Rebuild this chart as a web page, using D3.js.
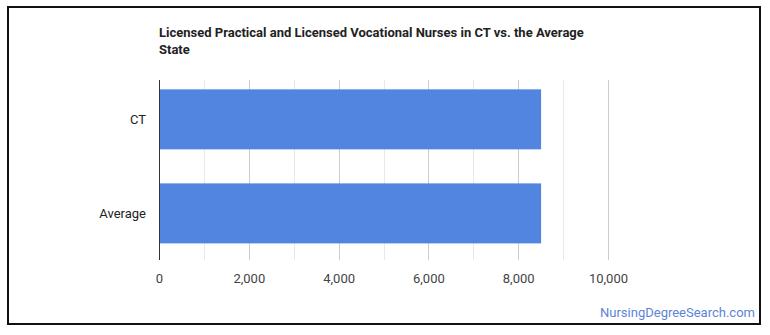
<!DOCTYPE html>
<html>
<head>
<meta charset="utf-8">
<script src="https://cdn.jsdelivr.net/npm/d3@7"></script>
<style>
  body { margin: 0; background: #fff; }
  svg { display: block; font-family: Roboto, "Noto Sans", sans-serif; }
</style>
</head>
<body>
<script>
(function(){

    const svgWidth = 770, svgHeight = 335;

    // chart data
    const categories = ["CT", "Average"];
    const values = [8510, 8510];
    const tickValues = [0, 2000, 4000, 6000, 8000, 10000];
    const gridValues = d3.range(0, 10001, 1000);
    const titleLines = ["Licensed Practical and Licensed Vocational Nurses in CT vs. the Average", "State"];

    const plot = { left: 159, right: 608, top: 80, bottom: 260 };

    const svg = d3.select("body").append("svg")
        .attr("width", svgWidth)
        .attr("height", svgHeight);

    // outer frame
    svg.append("rect")
        .attr("x", 8).attr("y", 7)
        .attr("width", 752).attr("height", 317)
        .attr("fill", "#fff")
        .attr("stroke", "#111")
        .attr("stroke-width", 2);

    // title
    svg.append("g").selectAll("text")
        .data(titleLines)
        .enter().append("text")
        .attr("x", plot.left)
        .attr("y", (d, i) => 37 + i * 17)
        .attr("font-size", 13)
        .attr("font-weight", "bold")
        .attr("fill", "#222")
        .text(d => d);

    const x = d3.scaleLinear()
        .domain([0, 10000])
        .range([plot.left, plot.right]);

    const y = d3.scaleBand()
        .domain(categories)
        .range([plot.top, plot.bottom])
        .paddingInner(0.362)
        .paddingOuter(0.138)
        .align(0.36);

    // gridlines
    svg.append("g").selectAll("line")
        .data(gridValues.filter(v => v > 0))
        .enter().append("line")
        .attr("x1", d => Math.round(x(d)) + 0.5)
        .attr("x2", d => Math.round(x(d)) + 0.5)
        .attr("y1", plot.top)
        .attr("y2", plot.bottom)
        .attr("stroke", d => d % 2000 === 0 ? "#cccccc" : "#e8e8e8")
        .attr("stroke-width", 1);

    // bars
    svg.append("g").selectAll("rect")
        .data(categories)
        .enter().append("rect")
        .attr("x", x(0))
        .attr("y", d => y(d))
        .attr("width", (d, i) => x(values[i]) - x(0))
        .attr("height", y.bandwidth())
        .attr("fill", "#5185e0");

    // baseline axis line
    svg.append("line")
        .attr("x1", Math.round(x(0)) + 0.5)
        .attr("x2", Math.round(x(0)) + 0.5)
        .attr("y1", plot.top)
        .attr("y2", plot.bottom)
        .attr("stroke", "#333")
        .attr("stroke-width", 1);

    // x axis labels
    const xAxis = d3.axisBottom(x)
        .tickValues(tickValues)
        .tickSize(0)
        .tickPadding(14)
        .tickFormat(d3.format(","));

    const gx = svg.append("g")
        .attr("transform", `translate(0, ${plot.bottom})`)
        .call(xAxis);
    gx.select(".domain").remove();
    gx.selectAll("text")
        .attr("font-size", 13)
        .attr("font-family", "Roboto, sans-serif")
        .attr("fill", "#444");

    // y axis labels
    const yAxis = d3.axisLeft(y)
        .tickSize(0)
        .tickPadding(13);

    const gy = svg.append("g")
        .attr("transform", `translate(${plot.left}, 0)`)
        .call(yAxis);
    gy.select(".domain").remove();
    gy.selectAll("text")
        .attr("font-size", 13)
        .attr("font-family", "Roboto, sans-serif")
        .attr("fill", "#222");

    // watermark
    svg.append("text")
        .attr("x", 755)
        .attr("y", 317)
        .attr("text-anchor", "end")
        .attr("font-size", 13)
        .attr("fill", "#5b85d6")
        .text("NursingDegreeSearch.com");

})();
</script>
</body>
</html>
